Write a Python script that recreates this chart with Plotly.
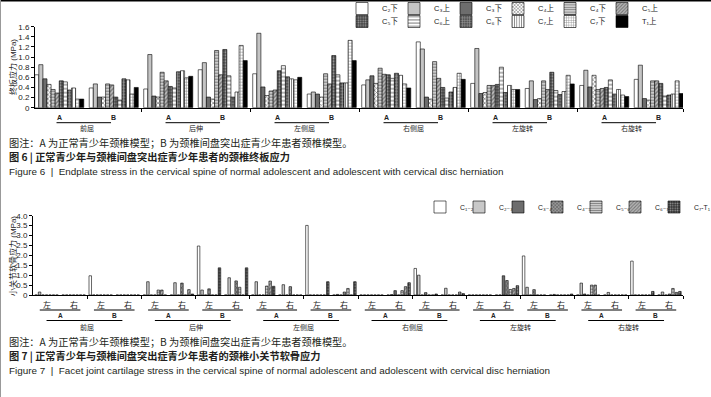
import plotly.graph_objects as go

W, H = 711, 397

motions = ["前屈", "后伸", "左侧屈", "右侧屈", "左旋转", "右旋转"]
models = ["A", "B"]
sides = ["左", "右"]

endplate_labels = ["C₂下", "C₃上", "C₃下", "C₄上", "C₄下", "C₅上",
                   "C₅下", "C₆上", "C₆下", "C₇上", "C₇下", "T₁上"]
facet_labels = ["C₁₋₂", "C₂₋₃", "C₃₋₄", "C₄₋₅", "C₅₋₆", "C₆₋₇", "C₇-T₁"]

# ---- Figure 6: endplate stress (MPa); values in endplate_labels order ----
ep_qianqu_A = [0.65, 0.85, 0.57, 0.46, 0.36, 0.29, 0.53, 0.51, 0.35, 0.39, 0.17, 0.17]
ep_qianqu_B = [0.39, 0.47, 0.21, 0.21, 0.47, 0.45, 0.21, 0.15, 0.57, 0.55, 0.27, 0.40]
ep_houshen_A = [0.37, 1.05, 0.23, 0.21, 0.70, 0.53, 0.42, 0.39, 0.71, 0.73, 0.59, 0.62]
ep_houshen_B = [0.75, 0.89, 0.21, 0.17, 1.13, 0.65, 1.15, 0.63, 0.21, 0.31, 1.23, 0.93]
ep_zuocequ_A = [0.67, 1.47, 0.41, 0.24, 0.33, 0.35, 0.73, 0.83, 0.61, 0.57, 0.55, 0.60]
ep_zuocequ_B = [0.27, 0.31, 0.27, 0.21, 0.67, 0.47, 1.03, 0.65, 0.49, 0.49, 1.33, 0.93]
ep_youcequ_A = [0.45, 0.55, 0.63, 0.48, 0.78, 0.66, 0.65, 0.58, 0.68, 0.64, 0.47, 0.39]
ep_youcequ_B = [1.30, 1.16, 0.21, 0.17, 0.91, 0.58, 0.40, 0.19, 0.31, 0.40, 0.68, 0.56]
ep_zuoxuan_A = [0.48, 1.17, 0.28, 0.30, 0.44, 0.44, 0.46, 0.80, 0.30, 0.44, 0.36, 0.36]
ep_zuoxuan_B = [0.38, 0.53, 0.16, 0.18, 0.53, 0.36, 0.70, 0.34, 0.26, 0.32, 0.64, 0.47]
ep_youxuan_A = [0.44, 0.74, 0.41, 0.64, 0.36, 0.38, 0.40, 0.55, 0.27, 0.36, 0.25, 0.22]
ep_youxuan_B = [0.56, 0.84, 0.18, 0.15, 0.53, 0.53, 0.48, 0.23, 0.25, 0.27, 0.53, 0.28]

# ---- Figure 7: facet cartilage stress (MPa); per motion: [A左, A右, B左, B右], facet_labels order ----
fj_qianqu = [[0, 0.15, 0, 0, 0, 0, 0], [0, 0, 0, 0, 0, 0, 0],
             [0.97, 0, 0, 0, 0, 0, 0], [0, 0, 0, 0, 0, 0, 0]]
fj_houshen = [[0, 0.67, 0, 0, 0.25, 0.25, 0], [0, 0.62, 0, 0.60, 0, 0.27, 0.05],
              [2.47, 0.25, 0, 0.31, 0, 0, 1.37], [0, 0.87, 0, 0.71, 0.39, 0, 1.37]]
fj_zuocequ = [[0, 0.67, 0, 0, 0.45, 0.70, 0.44], [0, 0.52, 0, 0.42, 0, 0, 0],
              [3.51, 0, 0, 0, 0, 0, 0.67], [0, 0.03, 0, 0.15, 0.33, 0, 0.67]]
fj_youcequ = [[0, 0, 0, 0, 0, 0, 0], [0, 0.02, 0.22, 0, 0.22, 0.42, 0.62],
              [1.34, 1.00, 0, 0.12, 0, 0, 0.05], [0, 0.34, 0, 0, 0, 0.15, 0.07]]
fj_zuoxuan = [[0, 0, 0, 0, 0, 0, 0], [0, 0, 0.97, 0.73, 0.28, 0.33, 0.47],
              [1.97, 0.39, 0, 0.27, 0, 0, 0], [0, 0.03, 0, 0, 0, 0, 0.05]]
fj_youxuan = [[0, 0.60, 0.05, 0, 0.50, 0.50, 0], [0, 0.13, 0, 0, 0, 0, 0],
              [1.71, 0, 0, 0, 0, 0, 0.18], [0, 0.15, 0, 0.05, 0.33, 0.13, 0.18]]

ep_ticks = [0, 0.2, 0.4, 0.6, 0.8, 1.0, 1.2, 1.4, 1.6]
ep_ticktext = ["0", "0.2", "0.4", "0.6", "0.8", "1.0", "1.2", "1.4", "1.6"]
fj_ticks = [0, 0.5, 1.0, 1.5, 2.0, 2.5, 3.0, 3.5, 4.0]
fj_ticktext = ["0", "0.5", "1.0", "1.5", "2.0", "2.5", "3.0", "3.5", "4.0"]

# ---------------- styles ----------------
def pat(shape, fg, bg, size=3, sol=0.4):
    return dict(shape=shape, fgcolor=fg, bgcolor=bg, size=size, solidity=sol)

ep_styles = [
    dict(color="white"),
    dict(color="#c4c4c4"),
    dict(color="#6d6d6d"),
    dict(color="white", pattern=pat("x", "#111", "white", 3, 0.45)),
    dict(color="white", pattern=pat("-", "#000", "white", 3, 0.6)),
    dict(color="#bbbbbb", pattern=pat("/", "#333", "#bbbbbb", 3, 0.45)),
    dict(color="#444444", pattern=pat(".", "white", "#444444", 3, 0.35)),
    dict(color="white", pattern=pat("-", "#000", "white", 4, 0.3)),
    dict(color="#555555", pattern=pat("+", "white", "#555555", 3, 0.3)),
    dict(color="white", pattern=pat("|", "#000", "white", 3, 0.35)),
    dict(color="white", pattern=pat("+", "#000", "white", 3, 0.3)),
    dict(color="black"),
]
fj_styles = [
    dict(color="white"),
    dict(color="#c8c8c8"),
    dict(color="#6d6d6d"),
    dict(color="#888888", pattern=pat("x", "#111", "#999999", 3, 0.4)),
    dict(color="white", pattern=pat("-", "#000", "white", 3, 0.6)),
    dict(color="#bbbbbb", pattern=pat("/", "#333", "#bbbbbb", 3, 0.45)),
    dict(color="#333333", pattern=pat(".", "white", "#333333", 3, 0.35)),
]

CJK = "Noto Sans CJK SC"
SANS = "Liberation Sans, DejaVu Sans, Noto Sans CJK SC"

fig = go.Figure()

ep_groups = [ep_qianqu_A, ep_qianqu_B, ep_houshen_A, ep_houshen_B, ep_zuocequ_A, ep_zuocequ_B,
             ep_youcequ_A, ep_youcequ_B, ep_zuoxuan_A, ep_zuoxuan_B, ep_youxuan_A, ep_youxuan_B]
ep_cats = [m + md for m in motions for md in models]
for s, name in enumerate(endplate_labels):
    fig.add_trace(go.Bar(
        x=ep_cats, y=[g[s] for g in ep_groups], name=name,
        marker=dict(**ep_styles[s], line=dict(color="black", width=0.6)),
        xaxis="x", yaxis="y", legend="legend" if s < 6 else "legend2",
        hoverinfo="skip"))

fj_all = [fj_qianqu, fj_houshen, fj_zuocequ, fj_youcequ, fj_zuoxuan, fj_youxuan]
fj_groups = [sub for mot in fj_all for sub in mot]
fj_cats = [m + md + sd for m in motions for md in models for sd in sides]
for s, name in enumerate(facet_labels):
    extra = dict(legendwidth=22) if s == len(facet_labels) - 1 else {}
    fig.add_trace(go.Bar(
        x=fj_cats, y=[g[s] for g in fj_groups], name=name,
        width=0.9 / 7 * 0.72,
        marker=dict(**fj_styles[s], line=dict(color="black", width=0.6)),
        xaxis="x2", yaxis="y2", legend="legend3",
        hoverinfo="skip", **extra))

def py(p):
    return 1 - p / H

def px(p):
    return p / W

ann = []
shapes = []
C = dict(xanchor="center", yanchor="middle", showarrow=False)

# Figure 6 axis labels
for k, m in enumerate(motions):
    for j, md in enumerate(models):
        ann.append(dict(x=2 * k + j, xref="x", y=py(117), yref="paper", text=md, **C,
                        font=dict(size=7, family=SANS, weight=700, color="#222")))
    shapes.append(dict(type="line", xref="x", yref="paper", x0=2 * k - 0.05, x1=2 * k + 0.95,
                       y0=py(122.7), y1=py(122.7), line=dict(color="black", width=1)))
    ann.append(dict(x=2 * k + 0.5, xref="x", y=py(128), yref="paper", text=m, **C,
                    font=dict(size=7, family=CJK, color="#222")))

# Figure 7 axis labels
for k, m in enumerate(motions):
    for j, md in enumerate(models):
        base = 4 * k + 2 * j
        for t, sd in enumerate(sides):
            ann.append(dict(x=base + t, xref="x2", y=py(304), yref="paper", text=sd, **C,
                            font=dict(size=8, family=CJK, color="#222")))
        shapes.append(dict(type="line", xref="x2", yref="paper", x0=base - 0.25, x1=base + 1.25,
                           y0=py(310), y1=py(310), line=dict(color="black", width=1)))
        ann.append(dict(x=base + 0.5, xref="x2", y=py(315), yref="paper", text=md, **C,
                        font=dict(size=6.5, family=SANS, weight=700, color="#222")))
    shapes.append(dict(type="line", xref="x2", yref="paper", x0=4 * k + 0.0, x1=4 * k + 2.8,
                       y0=py(320.5), y1=py(320.5), line=dict(color="black", width=1)))
    ann.append(dict(x=4 * k + 1.5, xref="x2", y=py(326.5), yref="paper", text=m, **C,
                    font=dict(size=7, family=CJK, color="#222")))

# y-axis titles
ann.append(dict(x=px(13), y=py(67), xref="paper", yref="paper", text="终板应力 (MPa)", textangle=-90,
                **C, font=dict(size=8, family=SANS, color="#222")))
ann.append(dict(x=px(13), y=py(256), xref="paper", yref="paper", text="小关节软骨应力 (MPa)", textangle=-90,
                **C, font=dict(size=8, family=SANS, color="#222")))

# captions
cap_cn = "图注：A 为正常青少年颈椎模型；B 为颈椎间盘突出症青少年患者颈椎模型。"
captions = [
    (142.5, cap_cn, dict(size=10.2, family=CJK, color="#231f20")),
    (157, "图 6 | 正常青少年与颈椎间盘突出症青少年患者的颈椎终板应力", dict(size=10.2, family=CJK, weight=700, color="#231f20")),
    (171.5, "Figure 6  |  Endplate stress in the cervical spine of normal adolescent and adolescent with cervical disc herniation",
     dict(size=9.9, family="Liberation Sans", color="#231f20")),
    (341, cap_cn, dict(size=10.2, family=CJK, color="#231f20")),
    (355.5, "图 7 | 正常青少年与颈椎间盘突出症青少年患者的颈椎小关节软骨应力", dict(size=10.2, family=CJK, weight=700, color="#231f20")),
    (370.5, "Figure 7  |  Facet joint cartilage stress in the cervical spine of normal adolescent and adolescent with cervical disc herniation",
     dict(size=9.9, family="Liberation Sans", color="#231f20")),
]
for yy, txt, f in captions:
    ann.append(dict(x=px(7), y=py(yy), xref="paper", yref="paper", xanchor="left", yanchor="middle",
                    text=txt, showarrow=False, font=f))

# frame lines
shapes.append(dict(type="line", xref="paper", yref="paper", x0=0, x1=1, y0=py(0.8), y1=py(0.8),
                   line=dict(color="black", width=1.6)))
shapes.append(dict(type="line", xref="paper", yref="paper", x0=px(0.5), x1=px(0.5), y0=0, y1=1,
                   line=dict(color="#999", width=1)))

leg_common = dict(orientation="h", xref="container", yref="container", xanchor="left", yanchor="middle",
                  entrywidthmode="pixels", indentation=-12, itemwidth=30,
                  bgcolor="rgba(0,0,0,0)", borderwidth=0, tracegroupgap=0)

axis_common = dict(showgrid=False, zeroline=False, showline=True, linecolor="black", linewidth=1,
                   ticks="outside", ticklen=3, tickwidth=1, tickcolor="black")

fig.update_layout(
    width=W, height=H,
    margin=dict(l=0, r=0, t=0, b=0, autoexpand=False),
    paper_bgcolor="white", plot_bgcolor="white",
    font=dict(family=SANS, size=8, color="#222"),
    barmode="group", bargap=0.1, bargroupgap=0.0,
    xaxis=dict(domain=[px(35), px(683)], anchor="y", type="category", range=[-0.445, 11.445],
               showticklabels=False, tickmode="array",
               tickvals=[1.5, 3.5, 5.5, 7.5, 9.5, 11.445], **axis_common),
    yaxis=dict(domain=[py(107.7), py(26.7)], anchor="x", range=[0, 1.6], tickmode="array",
               tickvals=ep_ticks, ticktext=ep_ticktext, tickfont=dict(size=8), **axis_common),
    xaxis2=dict(domain=[px(33), px(683)], anchor="y2", type="category", range=[-0.5, 23.5],
                showticklabels=False, tickmode="array",
                tickvals=[1.5 + 2 * i for i in range(11)] + [23.5], **axis_common),
    yaxis2=dict(domain=[py(295), py(215.7)], anchor="x2", range=[0, 4.0], tickmode="array",
                tickvals=fj_ticks, ticktext=fj_ticktext, tickfont=dict(size=8), **axis_common),
    legend=dict(**leg_common, x=px(354), y=py(8.5), entrywidth=19,
                font=dict(size=7.5, family=SANS, color="#222")),
    legend2=dict(**leg_common, x=px(354), y=py(21.5), entrywidth=19,
                 font=dict(size=7.5, family=SANS, color="#222")),
    legend3=dict(**leg_common, x=px(432), y=py(207), entrywidth=6,
                 font=dict(size=6.8, family=SANS, color="#222")),
    annotations=ann,
    shapes=shapes,
)

fig.write_html("out.html", config={"displayModeBar": False},
               post_script="document.body.style.margin='0';document.body.style.overflow='hidden';")
